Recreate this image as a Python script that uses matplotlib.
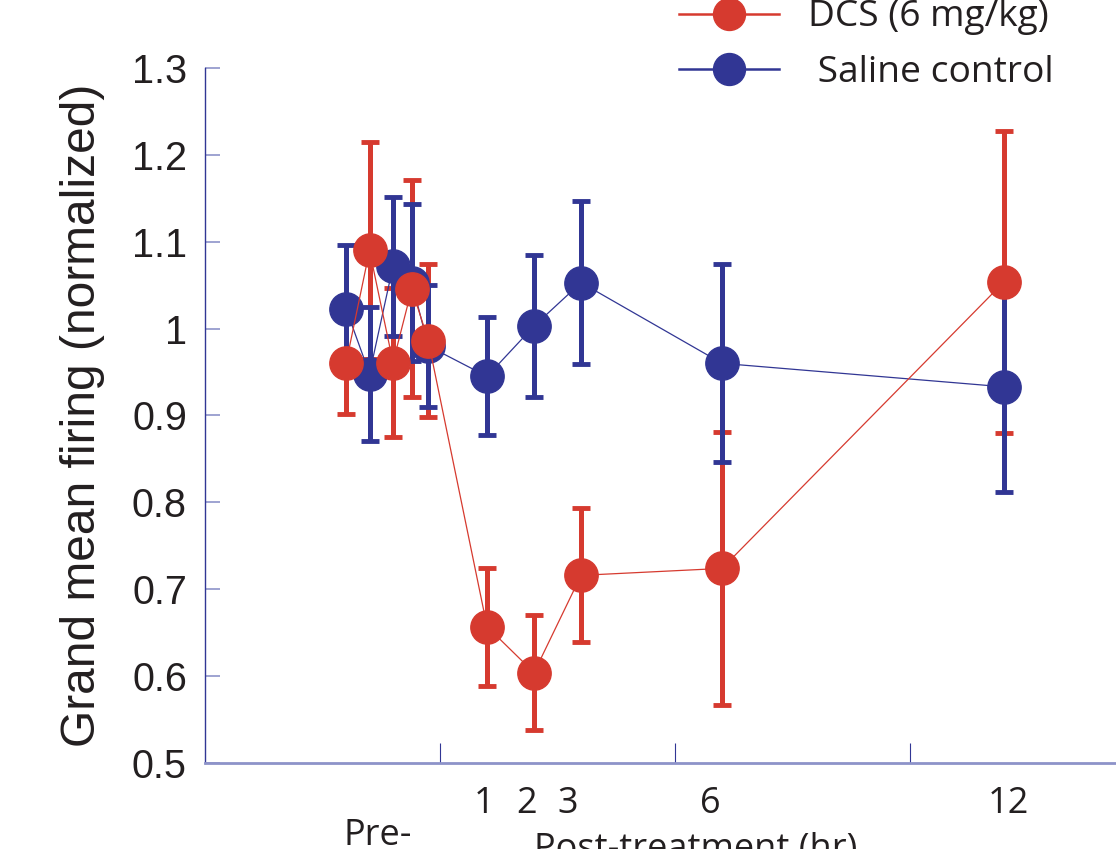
import matplotlib.pyplot as plt
from matplotlib.lines import Line2D

# time points (hr); pre-treatment points sit left of 0
x_dcs = [-2.0, -1.5, -1.0, -0.6, -0.25, 1, 2, 3, 6, 12]
y_dcs = [0.960, 1.090, 0.961, 1.046, 0.986, 0.657, 0.604, 0.716, 0.724, 1.054]
e_dcs = [0.058, 0.125, 0.086, 0.125, 0.088, 0.068, 0.066, 0.077, 0.157, 0.174]

x_sal = [-2.0, -1.5, -1.0, -0.6, -0.25, 1, 2, 3, 6, 12]
y_sal = [1.023, 0.948, 1.072, 1.053, 0.980, 0.945, 1.003, 1.053, 0.960, 0.933]
e_sal = [0.073, 0.077, 0.080, 0.090, 0.070, 0.068, 0.082, 0.094, 0.114, 0.121]

hour_labels = ['1', '2', '3', '6', '12']
hour_label_pos = [0.94, 1.85, 2.72, 5.75, 12.1]

red = '#d63a2f'
blue = '#313694'
light = '#8d93c9'
txt = '#231f20'

fig = plt.figure(figsize=(11.16, 8.49), dpi=100)
ax = fig.add_axes([205/1116, 86/849, 911/1116, 695/849])

# bars first (red under blue), then markers (blue under red)
ax.errorbar(x_dcs, y_dcs, yerr=e_dcs, fmt='none', ecolor=red,
            elinewidth=3.6, capsize=6.5, capthick=3.5, zorder=2)
ax.errorbar(x_sal, y_sal, yerr=e_sal, fmt='none', ecolor=blue,
            elinewidth=3.6, capsize=6.5, capthick=3.5, zorder=3)
ax.plot(x_sal, y_sal, '-o', color=blue, lw=0.9, ms=24, zorder=4)
ax.plot(x_dcs, y_dcs, '-o', color=red, lw=0.9, ms=24, zorder=5)

ax.set_xlim(-5, 14.38)
ax.set_ylim(0.5, 1.3)

for s in ['top', 'right']:
    ax.spines[s].set_visible(False)
ax.spines['left'].set_color(blue)
ax.spines['left'].set_linewidth(1.0)
ax.spines['bottom'].set_color(light)
ax.spines['bottom'].set_linewidth(2)

ax.set_yticks([0.5, 0.6, 0.7, 0.8, 0.9, 1.0, 1.1, 1.2, 1.3])
ax.set_yticklabels(['0.5', '0.6', '0.7', '0.8', '0.9', '1', '1.1', '1.2', '1.3'])
ax.tick_params(axis='y', direction='in', length=10.5, width=1.2, color=light,
               labelsize=28.5, pad=13, labelcolor=txt)
for lab in ax.get_yticklabels():
    lab.set_family('Liberation Sans')

ax.set_xticks([0, 5, 10])
ax.set_xticklabels(['', '', ''])
ax.tick_params(axis='x', direction='in', length=14.4, width=0.8, color=blue)

for lab, xp in zip(hour_labels, hour_label_pos):
    ax.annotate(lab, xy=(xp, -0.072), xycoords=('data', 'axes fraction'),
                ha='center', va='baseline', fontsize=26, family='Open Sans',
                color=txt)

ax.annotate('Pre-', xy=(-1.32, -0.118), xycoords=('data', 'axes fraction'),
            ha='center', va='baseline', fontsize=26, family='Open Sans', color=txt)
ax.annotate('Post-treatment (hr)', xy=(5.43, -0.138), xycoords=('data', 'axes fraction'),
            ha='center', va='baseline', fontsize=26, family='Open Sans', color=txt)

ax.set_ylabel('Grand mean firing (normalized)', fontsize=34.5,
              family='Liberation Sans', color=txt)
ax.yaxis.set_label_coords(-0.11, 0.5)

handles = [Line2D([], [], color=red, lw=1.8, marker='o', ms=23),
           Line2D([], [], color=blue, lw=1.8, marker='o', ms=23)]
leg = ax.legend(handles, ['DCS (6 mg/kg)', ' Saline control'],
                loc='upper left', bbox_to_anchor=(679/1116, 1.0006),
                bbox_transform=fig.transFigure, frameon=False,
                prop={'family': 'Open Sans', 'size': 26.7},
                handlelength=2.7, handletextpad=0.78, labelspacing=0.52,
                borderpad=0, borderaxespad=0)
for t in leg.get_texts():
    t.set_color(txt)

fig.savefig('out.png', dpi=100)
